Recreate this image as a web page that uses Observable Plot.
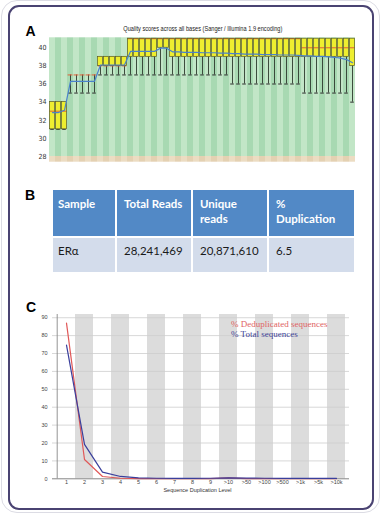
<!DOCTYPE html>
<html><head><meta charset="utf-8">
<script src="https://cdn.jsdelivr.net/npm/d3@7"></script>
<script src="https://cdn.jsdelivr.net/npm/@observablehq/plot@0.6"></script>
<style>
html,body{margin:0;padding:0;background:#fff;}
#fig{position:relative;width:383px;height:518px;overflow:hidden;background:#fff;font-family:Arial,"Liberation Sans",sans-serif;}
.abs{position:absolute;}
.outer{position:absolute;left:1px;top:0px;width:377px;height:511px;border:1.5px solid #dcdce4;border-radius:16px;pointer-events:none;}
.frame{position:absolute;left:8px;top:5px;width:362px;height:501px;border:2px solid #4a4372;border-radius:11px;pointer-events:none;}
.lbl{position:absolute;font:bold 14px/14px Arial,"Liberation Sans",sans-serif;color:#000;}
#titleA{position:absolute;left:0;top:25px;width:406px;text-align:center;font:7px/7px Arial,"Liberation Sans",sans-serif;color:#222;white-space:nowrap;}
#titleA span{display:inline-block;transform-origin:center;}
table.t{position:absolute;left:53px;top:190px;border-collapse:collapse;table-layout:fixed;font-family:Lato,"Open Sans",sans-serif;font-size:11.5px;}
table.t td{box-sizing:border-box;vertical-align:top;white-space:pre;line-height:15px;padding:0;}
table.t tr.h td{background:#5289c6;color:#fff;font-weight:bold;height:47px;padding-top:6px;border-bottom:2px solid #fff;}
table.t tr.d td{background:#d3dceb;color:#1a1a1a;height:35px;padding-top:5px;}
table.t td.c0{padding-left:5px;}
table.t td{padding-left:7px;}
table.t td:not(:last-child){border-right:2px solid #fff;}
.leg{position:absolute;left:231px;font:9px/9px "Liberation Serif","DejaVu Serif",serif;white-space:nowrap;}
#xtitleC{position:absolute;left:0;width:395px;top:487.5px;text-align:center;font:5.5px/5.5px Arial,"Liberation Sans",sans-serif;color:#333;}
</style>
</head><body>
<div id="fig">
  <div id="plotA" class="abs" style="left:0;top:0"></div>
  <div id="plotC" class="abs" style="left:0;top:300px"></div>
  <div id="titleA"><span>Quality scores across all bases (Sanger / Illumina 1.9 encoding)</span></div>
  <div class="lbl" style="left:25.5px;top:24.2px">A</div>
  <div class="lbl" style="left:25px;top:188.2px">B</div>
  <div class="lbl" style="left:26px;top:300px">C</div>
  <div id="tableB"></div>
  <div class="leg" style="top:320px;color:#e06464">% Deduplicated sequences</div>
  <div class="leg" style="top:330px;color:#3c3f96">% Total sequences</div>
  <div id="xtitleC">Sequence Duplication Level</div>
  <div class="outer"></div>
  <div class="frame"></div>
</div>
<script>
// ---------- Panel A: per-base quality (51 positions) ----------
const positions = d3.range(1, 52);
const lowerA  = [31,31,31, 35,35,35,35,35, 37,37,37,37,37, 37,37,37,37,37, 37,37,
                 37,37,37,37,37,37,37,37,37,37, 36,36,36,36,36,36,36,36,36,36,36,36,
                 35,35,35,35,35,35,35,35, 34];
const q1A     = [31,31,31, 37,37,37,37,37, 38,38,38,38,38, 39,39,39,39,39, 40,40,
                 39,39,39,39,39,39,39,39,39,39, 39,39,39,39,39,39,39,39,39,39,39,39,
                 39,39,39,39,39,39,39,39, 38];
const medianA = [33,33,33, 37,37,37,37,37, 38,38,38,38,38, 41,41,41,41,41, 41,41,
                 41,41,41,41,41,41,41,41,41,41, 41,41,41,41,41,41,41,41,41,41,41,41,
                 40,40,40,40,40,40,40,40, 40];
const q3A     = [34,34,34, 37,37,37,37,37, 39,39,39,39,39, 41,41,41,41,41, 41,41,
                 41,41,41,41,41,41,41,41,41,41, 41,41,41,41,41,41,41,41,41,41,41,41,
                 41,41,41,41,41,41,41,41, 41];
const meanA   = [32.85,32.85,33.1, 36.3,36.3,36.3,36.3,36.3, 38.1,38.1,38.1,38.1,38.1,
                 39.6,39.6,39.6,39.6,39.6, 39.95,39.95,
                 39.55,39.55,39.5,39.5,39.5,39.45,39.45,39.45,39.4,39.4,
                 39.35,39.35,39.3,39.3,39.3,39.25,39.25,39.25,39.2,39.2,39.2,39.15,
                 39.1,39.1,39.05,39.05,39.0,38.95,38.85,38.7, 38.35];
const yTicksA = [28,30,32,34,36,38,40];

// ---------- Panel B: table ----------
const tableHeaders = ["Sample", "Total Reads", "Unique\nreads", "%\nDuplication"];
const tableRow = ["ER\u03b1", "28,241,469", "20,871,610", "6.5"];
const tableColWidths = [63, 76, 76, 86];

// ---------- Panel C: duplication levels ----------
const levels = ["1","2","3","4","5","6","7","8","9",">10",">50",">100",">500",">1k",">5k",">10k"];
const dedupPct = [87.0,10.8,1.3,0.3,0.15,0.1,0.1,0.1,0.1,0.5,0.1,0.05,0.05,0.05,0.05,0.05];
const totalPct = [74.7,19.2,3.7,1.3,0.5,0.3,0.25,0.25,0.3,0.5,0.4,0.3,0.2,0.2,0.2,0.2];
const yTicksC = [0,10,20,30,40,50,60,70,80,90];

// ---- build A ----
const rowsA = positions.map((p,i)=>({pos:p, lo:lowerA[i], q1:q1A[i], med:medianA[i], q3:q3A[i], mean:meanA[i]}));
const boxes = rowsA.filter(d=>d.q3>d.q1);
const yTopA = 41.1, yBotA = 27.37;
const plotA = Plot.plot({
  width: 383, height: 170,
  marginLeft: 49, marginRight: 28, marginTop: 37.3, marginBottom: 8.3,
  style: {background:"transparent", fontFamily:"'Liberation Sans Narrow','DejaVu Sans Condensed',Arial,sans-serif", fontSize:"7px", color:"#333", overflow:"visible"},
  x: {type:"band", domain: positions, padding:0, axis:null},
  y: {domain:[yBotA, yTopA], ticks: yTicksA, tickSize:0, tickPadding:3, label:null},
  color: {type:"identity"},
  marks: [
    Plot.barY(positions, {x:d=>d, y1:28, y2:yTopA, fill:d=>d%2 ? "#c2e6c7" : "#a8d9b2"}),
    Plot.barY(positions, {x:d=>d, y1:yBotA, y2:28, fill:d=>d%2 ? "#ecdcc2" : "#e4d1b2"}),
    Plot.ruleX(rowsA, {x:"pos", y1:"lo", y2:"q1", stroke:"#2e3a2e", strokeWidth:0.9}),
    Plot.tickY(rowsA, {x:"pos", y:"lo", stroke:"#2e2e2e", strokeWidth:1, insetLeft:1.2, insetRight:1.2}),
    Plot.barY(boxes, {x:"pos", y1:"q1", y2:"q3", fill:"#eeee30", insetLeft:0.6, insetRight:0.6}),
    Plot.tickY(rowsA, {x:"pos", y:"med", stroke:"#e0603a", strokeWidth:1, insetLeft:0.6, insetRight:0.6}),
    Plot.barY(boxes, {x:"pos", y1:"q1", y2:"q3", fill:"none", stroke:"#5a5a20", strokeWidth:0.7, insetLeft:0.6, insetRight:0.6}),
    Plot.lineY(rowsA, {x:"pos", y:"mean", stroke:"#4a82cc", strokeWidth:1.2})
  ]
});
document.getElementById("plotA").appendChild(plotA);

// ---- build B ----
(function(){
  const t = document.createElement("table");
  t.className = "t";
  const cg = document.createElement("colgroup");
  tableColWidths.forEach(w=>{const c=document.createElement("col"); c.style.width=w+"px"; cg.appendChild(c);});
  t.appendChild(cg);
  const h = document.createElement("tr"); h.className="h";
  tableHeaders.forEach((s,i)=>{const td=document.createElement("td"); td.textContent=s; if(i===0) td.className="c0"; h.appendChild(td);});
  const r = document.createElement("tr"); r.className="d";
  tableRow.forEach((s,i)=>{const td=document.createElement("td"); td.textContent=s; if(i===0) td.className="c0"; r.appendChild(td);});
  t.appendChild(h); t.appendChild(r);
  document.getElementById("tableB").appendChild(t);
})();

// ---- build C ----
const rowsDedup = levels.map((l,i)=>({level:l, v:dedupPct[i]}));
const rowsTotal = levels.map((l,i)=>({level:l, v:totalPct[i]}));
const yTopC = 91.8;
const plotC = Plot.plot({
  width: 383, height: 200,
  marginLeft: 52, marginRight: 34, marginTop: 14, marginBottom: 21.7,
  style: {background:"transparent", fontFamily:"Arial,'Liberation Sans',sans-serif", fontSize:"5.5px", color:"#444", overflow:"visible"},
  x: {type:"band", domain: levels, padding:0, tickSize:0, tickPadding:1.5, label:null},
  y: {domain:[0, yTopC], ticks: yTicksC, tickSize:0, tickPadding:5, label:null},
  marks: [
    Plot.barY(levels.filter((d,i)=>i%2===1), {x:d=>d, y1:0, y2:yTopC, fill:"#dcdcdc"}),
    Plot.ruleY(yTicksC.slice(1), {stroke:"#cdcdcd", strokeWidth:0.8}),
    Plot.ruleY([0], {stroke:"#777", strokeWidth:0.9}),
    Plot.ruleX([0], {x: ()=>levels[0], dx:-9.3, y1:0, y2:yTopC, stroke:"#888", strokeWidth:0.9}),
    Plot.lineY(rowsDedup, {x:"level", y:"v", stroke:"#e05858", strokeWidth:1.2}),
    Plot.lineY(rowsTotal, {x:"level", y:"v", stroke:"#3a3f9c", strokeWidth:1.2})
  ]
});
document.getElementById("plotC").appendChild(plotC);

// fit panel-A title to its measured width in the reference (~159px)
(function(){
  const sp = document.querySelector("#titleA span");
  const w = sp.getBoundingClientRect().width;
  if (w > 0) sp.style.transform = "scaleX(" + (159 / w) + ")";
})();
</script>
</body></html>
